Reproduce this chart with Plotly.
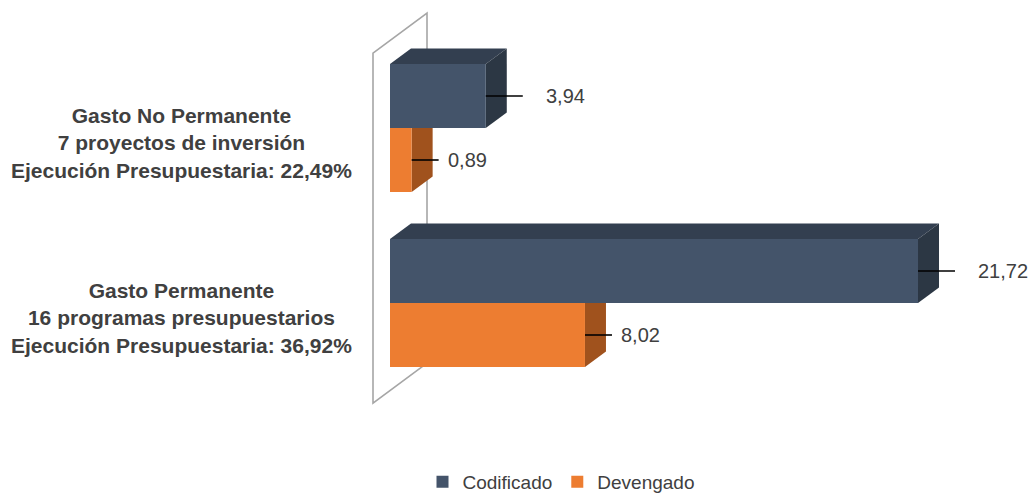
import plotly.graph_objects as go

# ---------------- data ----------------
categories = [
    "Gasto No Permanente<br>7 proyectos de inversión<br>Ejecución Presupuestaria: 22,49%",
    "Gasto Permanente<br>16 programas presupuestarios<br>Ejecución Presupuestaria: 36,92%",
]
series_names = ["Codificado", "Devengado"]
codificado = [3.94, 21.72]
devengado = [0.89, 8.02]

# ---------------- styling / geometry ----------------
W, H = 1031, 501
PX_X = 24.31          # pixels per unit on value axis
X0_PX = 390           # pixel position of value 0
PX_Y = 175            # pixels per category step
Y0_PX = 128           # pixel position of first category centre
BAR_T = 64 / PX_Y     # bar thickness (category units)
DX = 21 / PX_X        # depth offset (value units)
DY = -15.5 / PX_Y     # depth offset (category units, reversed axis -> up)
WALL_F, WALL_B = -17 / 21, 37 / 21   # wall depth extent in bar-depth units

front_cols = ["#44546A", "#ED7D31"]
top_cols = ["#333F50", "#C0641F"]
side_cols = ["#2C3744", "#A0521D"]
leader_px = [37, 27]
text_px = [60, 36]
TXT = "#404040"
FONT = "Liberation Sans, Arial, sans-serif"

xr = [-X0_PX / PX_X, (W - X0_PX) / PX_X]
yr = [(H - Y0_PX) / PX_Y, -Y0_PX / PX_Y]

ypos = list(range(len(categories)))
series = [codificado, devengado]
offsets = [-BAR_T, 0.0]

fig = go.Figure()
for name, vals, off, col in zip(series_names, series, offsets, front_cols):
    fig.add_trace(go.Bar(
        x=vals, y=ypos, orientation="h", name=name,
        width=BAR_T, offset=off,
        marker=dict(color=col, line=dict(width=0)),
        hoverinfo="x+name",
    ))

shapes = []
# back wall (y-axis plane)
lo, hi = -0.5, len(categories) - 0.5
wall = (f"M {WALL_F*DX},{lo+WALL_F*DY} L {WALL_B*DX},{lo+WALL_B*DY} "
        f"L {WALL_B*DX},{hi+WALL_B*DY} L {WALL_F*DX},{hi+WALL_F*DY} Z")
shapes.append(dict(type="path", path=wall, xref="x", yref="y", layer="below",
                   fillcolor="rgba(255,255,255,0)", line=dict(color="#A6A6A6", width=1.6)))

# 3D faces of bars
for s, (vals, off) in enumerate(zip(series, offsets)):
    for c, v in zip(ypos, vals):
        yt = c + off
        yb = yt + BAR_T
        top = (f"M 0,{yt} L {v},{yt} L {v+DX},{yt+DY} L {DX},{yt+DY} Z")
        side = (f"M {v},{yt} L {v+DX},{yt+DY} L {v+DX},{yb+DY} L {v},{yb} Z")
        shapes.append(dict(type="path", path=top, xref="x", yref="y", layer="below",
                           fillcolor=top_cols[s], line=dict(width=0)))
        shapes.append(dict(type="path", path=side, xref="x", yref="y", layer="below",
                           fillcolor=side_cols[s], line=dict(width=0)))

annotations = []
# value labels with leader lines
for s, (vals, off) in enumerate(zip(series, offsets)):
    for c, v in zip(ypos, vals):
        yc = c + off + BAR_T / 2
        shapes.append(dict(type="line", xref="x", yref="y", layer="above",
                           x0=v, y0=yc, x1=v + leader_px[s] / PX_X, y1=yc,
                           line=dict(color="#000000", width=1.6)))
        annotations.append(dict(
            x=v, y=yc, xref="x", yref="y", xanchor="left", yanchor="middle",
            xshift=text_px[s] - 2, showarrow=False,
            text=f"{v:.2f}".replace(".", ","),
            font=dict(family=FONT, size=20, color=TXT),
        ))

# category labels
for c, label in zip(ypos, categories):
    annotations.append(dict(
        x=181 / W, y=c, xref="paper", yref="y", xanchor="center", yanchor="middle",
        yshift=-15, showarrow=False, align="center",
        text=f"<b>{label}</b>",
        font=dict(family=FONT, size=21, color=TXT),
    ))

fig.update_layout(
    width=W, height=H,
    margin=dict(l=0, r=0, t=0, b=0, autoexpand=False),
    paper_bgcolor="white", plot_bgcolor="white",
    xaxis=dict(range=xr, visible=False, fixedrange=True),
    yaxis=dict(range=yr, visible=False, fixedrange=True),
    shapes=shapes, annotations=annotations,
    barmode="overlay",
    showlegend=True,
    legend=dict(orientation="h", x=561 / W, xanchor="center", y=0,
                yanchor="bottom", font=dict(family=FONT, size=19, color=TXT),
                bgcolor="rgba(0,0,0,0)", itemclick=False),
)

fig.write_html("out.html")
